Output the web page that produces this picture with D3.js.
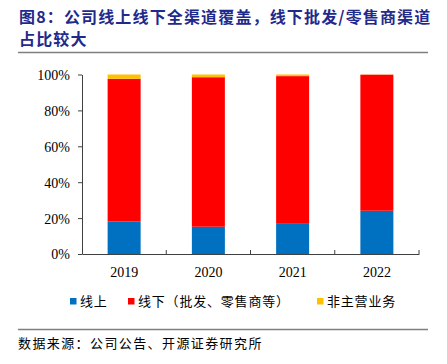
<!DOCTYPE html>
<html><head><meta charset="utf-8">
<script src="https://cdn.jsdelivr.net/npm/d3@7"></script>
<style>body{margin:0;background:#fff}svg{display:block}</style>
</head><body>
<svg id="c" width="447" height="364"></svg>
<script>
const categories = ["2019","2020","2021","2022"];
const seriesNames = ["线上","线下（批发、零售商等）","非主营业务"];
const online = [18.2, 15.2, 17.2, 24.1];
const offline = [79.4, 83.3, 81.9, 75.8];
const other = [2.4, 1.5, 0.9, 0.1];
const yTicks = [0,20,40,60,80,100];
const colors = ["#0070C0","#FF0000","#FFC000"];

const svg = d3.select("#c");
const cjk = "'Noto Sans CJK SC', sans-serif";
const m = {l:82, r:419, t:74.5, b:254};

// Title
svg.append("text").attr("x",19).attr("y",23).attr("font-family",cjk).attr("font-weight","bold")
  .attr("font-size",16).attr("letter-spacing",1.15).attr("fill","#1F2A8C")
  .text("图8：公司线上线下全渠道覆盖，线下批发/零售商渠道");
svg.append("text").attr("x",19).attr("y",45).attr("font-family",cjk).attr("font-weight","bold")
  .attr("font-size",16).attr("letter-spacing",1.15).attr("fill","#1F2A8C")
  .text("占比较大");
svg.append("line").attr("x1",18).attr("x2",428).attr("y1",52.5).attr("y2",52.5).attr("stroke","#7f7f7f").attr("stroke-width",1.5);

const xb = d3.scaleBand().domain(categories).range([m.l,m.r]);
const y = d3.scaleLinear().domain([0,100]).range([m.b,m.t]);

const data = categories.map((c,i)=>({cat:c, a:online[i], b:offline[i], c:other[i]}));
const stack = d3.stack().keys(["a","b","c"])(data);
svg.append("g").selectAll("g").data(stack).join("g").attr("fill",(d,i)=>colors[i])
  .selectAll("rect").data(d=>d).join("rect")
  .attr("x",d=>xb(d.data.cat)+xb.bandwidth()/2-16.5).attr("width",33)
  .attr("y",d=>y(d[1])).attr("height",d=>Math.max(0,y(d[0])-y(d[1])));

// y axis
const ya = svg.append("g").attr("transform",`translate(${m.l},0)`)
  .call(d3.axisLeft(y).tickValues(yTicks).tickFormat(d=>d+"%").tickSize(4).tickSizeOuter(0));
ya.select(".domain").attr("stroke","#404040");
ya.selectAll(".tick line").attr("stroke","#404040");
ya.selectAll("text").attr("font-family","'Liberation Serif', serif").attr("font-size",14).attr("fill","#000").attr("x",-12).attr("dy","0.35em");

// x axis
const xa = svg.append("g").attr("transform",`translate(0,${m.b})`)
  .call(d3.axisBottom(xb).tickSize(0).tickSizeOuter(0));
xa.select(".domain").attr("stroke","#404040");
xa.selectAll("text").attr("font-family","'Liberation Serif', serif").attr("font-size",14).attr("fill","#000").attr("dy","1.45em");
svg.append("g").selectAll("line").data(categories).join("line")
  .attr("x1",d=>xb(d)+xb.bandwidth()).attr("x2",d=>xb(d)+xb.bandwidth())
  .attr("y1",m.b).attr("y2",m.b-4).attr("stroke","#404040");

// legend
const legX = [70, 128, 317];
const lg = svg.append("g").selectAll("g").data(seriesNames).join("g")
  .attr("transform",(d,i)=>`translate(${legX[i]},297)`);
lg.append("rect").attr("width",6.5).attr("height",6.5).attr("y",1).attr("fill",(d,i)=>colors[i]);
lg.append("text").attr("x",10).attr("y",9).attr("font-family",cjk).attr("font-size",13)
  .attr("letter-spacing",0.8).attr("fill","#000").text(d=>d);

// source
svg.append("line").attr("x1",18).attr("x2",428).attr("y1",329.5).attr("y2",329.5).attr("stroke","#7f7f7f").attr("stroke-width",1.5);
svg.append("text").attr("x",18).attr("y",348).attr("font-family",cjk).attr("font-size",13)
  .attr("letter-spacing",1.4).attr("fill","#000").text("数据来源：公司公告、开源证券研究所");
</script>
</body></html>
